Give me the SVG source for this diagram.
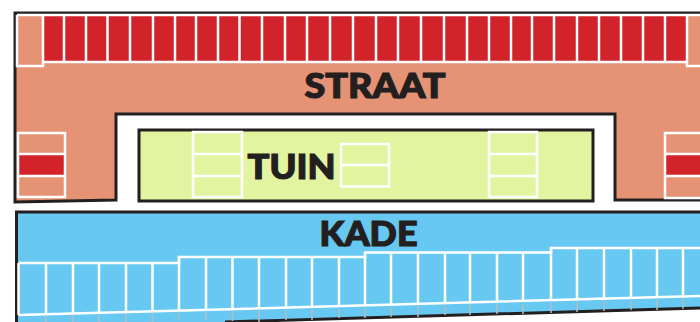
<svg xmlns="http://www.w3.org/2000/svg" width="700" height="322" viewBox="0 0 700 322">
<style>
.ink{stroke:#231f20;stroke-width:3;fill:none}
.w{stroke:#fff;stroke-width:2.500;fill:none}
.t{stroke:#b5bcc0;stroke-width:1.500;fill:none}
.red{fill:#d2232a}
text{font-family:"Lato","Liberation Sans",sans-serif;font-weight:900;fill:#231f20;stroke:#231f20;stroke-width:1.200;font-size:35px;text-anchor:middle}
</style>
<rect width="700" height="322" fill="#fff"/>
<g id="straat">
<path d="M15 13H700V200H615V114H116V200L15 202Z" fill="#e69274"/>
<path class="ink" d="M700 13H15V202L116 200V114H615V200H700"/>
<text x="375" y="97.500" textLength="141" lengthAdjust="spacingAndGlyphs">STRAAT</text>
</g>
<g id="parkeren-straat-boven">
<rect class="red" x="43" y="15" width="644" height="46"/>
<path class="w" d="M17 15H700M43 62H687M64 15V62M86 15V62M107.500 15V62M130 15V62M153 15V62M175 15V62M196 15V62M218 15V62M239.500 15V62M262 15V62M285 15V62M307 15V62M330 15V62M353 15V62M376 15V62M398 15V62M421 15V62M444 15V62M467 15V62M489 15V62M511 15V62M532 15V62M554 15V62M577 15V62M599 15V62M621 15V62M643 15V62M665 15V62"/>
<path class="w" d="M17 15V66H43V15M700 66H687V15"/>
</g>
<g id="parkeren-links">
<rect class="red" x="18" y="155" width="47" height="20"/>
<path class="w" d="M18 133H65V197H18ZM18 154H65M18 176H65"/>
</g>
<g id="parkeren-rechts">
<rect class="red" x="665" y="155" width="35" height="20"/>
<path class="w" d="M700 133H665V198H700M665 154H700M665 176H700"/>
</g>
<g id="tuin">
<rect x="139" y="130" width="454" height="71" fill="#e2f49f" stroke="#231f20" stroke-width="3"/>
<path class="w" d="M193 132H242V197H193ZM193 154H242M193 176H242"/>
<path class="w" d="M341 144H389V186.500H341ZM341 165H389"/>
<path class="w" d="M489 132H537V197H489ZM489 154H537M489 176H537"/>
<text x="291.500" y="178.500" textLength="88" lengthAdjust="spacingAndGlyphs">TUIN</text>
</g>
<g id="kade">
<path d="M16.500 212H700V308L225 322H16.500Z" fill="#67c8f1"/>
<path d="M16.500 322V212H700M225 322L700 308" stroke="#231f20" stroke-width="3" fill="none"/>
<path class="w" d="M18.500 263H179V257H365V252.500H551V248H700M18.500 315L700 296"/>
<path class="w" d="M18.500 263V315M46 263V314M73 263V313.500M99 263V313M126 263V312M152.500 263V311.500M179 257V311M206 257V310M232.500 257V309.500M259 257V309M286 257V308M312 257V307.500M339 257V307M365 252.500V306M391 252.500V305M418 252.500V304.500M445 252.500V304M470 252.500V303M497 252.500V302.500M523 252.500V302M551 248V301M577 248V300M604 248V299.500M631 248V299M657 248V298M683 248V297.500"/>
<path class="t" d="M46 316V322M73 315V322M99 315V322M126 314V322M152.500 313V322M179 313V320M206 312V320M232.500 311V321M259 311V322M286 310V320M312 309V320M339 309V318M365 308V318M391 307V317M418 306V317M445 306V315M470 305V315M497 304V314M523 304V314M551 303V313M577 302V312M604 301V311M631 301V310M657 300V310M683 299V309"/>
<text x="368.500" y="245.500" textLength="98" lengthAdjust="spacingAndGlyphs">KADE</text>
</g>
</svg>
